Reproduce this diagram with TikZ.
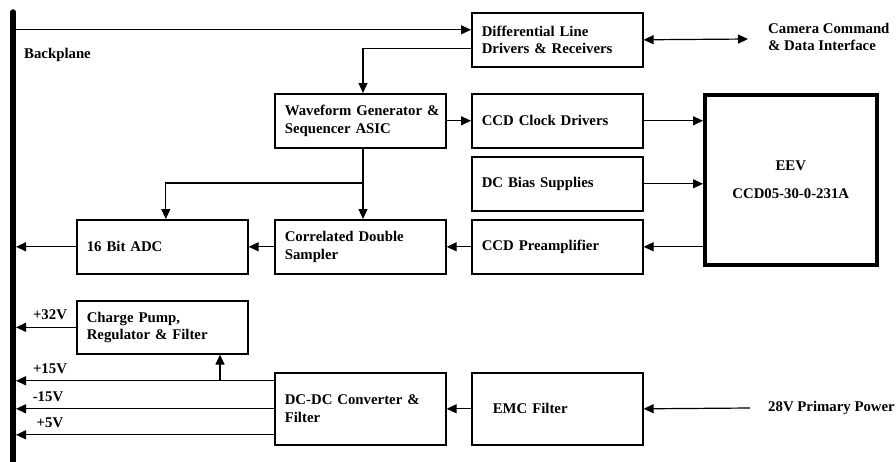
\documentclass[tikz,border=0pt]{standalone}
\usepackage{fontspec}
\setmainfont{Liberation Serif}
\usetikzlibrary{arrows.meta,calc}
\begin{document}
\begin{tikzpicture}[x=1pt,y=-1pt,
  font=\bfseries\fontsize{14.8}{17.5}\selectfont,
  box/.style={draw,line width=1.6pt,anchor=north west,minimum height=54pt,
    inner xsep=10pt,inner ysep=0pt,text width=151pt,align=left},
  wire/.style={line width=1.2pt},
  tip/.tip={Triangle[length=10pt,width=9pt]},
  arr/.style={wire,-tip},
  lbl/.style={inner sep=0pt}]
\useasboundingbox (0,0) rectangle (896,461);

% backplane bus
\coordinate (bpTop) at (13,12);
\coordinate (bpBot) at (13,475);
\coordinate (bpx) at (16,0);
\draw[line width=5.5pt,line cap=round] (bpTop) -- (bpBot);
\node[lbl,anchor=west] (bplabel) at (24,55) {Backplane};

% function blocks
\node[box] (diff) at (471,12) {Differential Line\\Drivers \& Receivers};
\node[box] (wave) at (274,93) {\mbox{Waveform Generator \&}\\Sequencer ASIC};
\node[box] (clk)  at (471,93) {CCD Clock Drivers};
\node[box] (bias) at (471,156) {DC Bias Supplies};
\node[box] (pre)  at (471,219) {CCD Preamplifier};
\node[box] (cds)  at (274,219) {Correlated Double\\Sampler};
\node[box] (adc)  at (76,219) {16 Bit ADC};
\node[box,minimum height=53pt] (pump) at (76,300) {Charge Pump,\\Regulator \& Filter};
\node[box,minimum height=72pt] (dcdc) at (274,372) {\mbox{DC-DC Converter \&}\\Filter};
\node[box,minimum height=72pt,inner xsep=21pt,text width=129pt] (emc) at (471,372) {EMC Filter};
\node[draw,line width=3.5pt,anchor=north west,minimum width=172pt,minimum height=170pt,
  align=center,font=\bfseries\fontsize{14.8}{28}\selectfont] (eev) at (703,93)
  {EEV\\CCD05-30-0-231A};

% external interfaces
\coordinate (cam) at (748,39);
\node[lbl,anchor=west,align=left] (camlabel) at (768,37) {Camera Command\\\& Data Interface};
\coordinate (pin) at (750,408);
\node[lbl,anchor=west] (pinlabel) at (768,408) {28V Primary Power};

% command / data path
\coordinate (wx) at (363,0);
\coordinate (d1) at ([yshift=10pt]diff.west);
\coordinate (d2) at ([yshift=-9pt]diff.west);
\draw[arr] (bpx |- d1) -- (d1);
\draw[arr] (d2) -| (wave.north -| wx);
\draw[wire,tip-tip] (diff.east) -- (cam);

% clocking and bias
\draw[arr] (wave.east) -- (clk.west);
\draw[arr] (clk.east) -- (clk.east -| eev.west);
\draw[arr] (bias.east) -- (bias.east -| eev.west);

% video chain
\draw[arr] (eev.west |- pre.east) -- (pre.east);
\draw[arr] (pre.west) -- (cds.east);
\draw[arr] (cds.west) -- (adc.east);
\draw[arr] (adc.west) -- (adc.west -| bpx);
\coordinate (j1) at (363,183);
\draw[arr] (wave.south -| wx) -- (cds.north -| wx);
\draw[arr] (j1) -| ([xshift=3.5pt]adc.north);

% power distribution
\coordinate (p15) at ([yshift=28pt]dcdc.west);
\coordinate (m15) at (dcdc.west);
\coordinate (p5) at ([yshift=-26pt]dcdc.west);
\coordinate (bx) at (220,0);
\draw[arr] (pin) -- (emc.east);
\draw[arr] (emc.west) -- (dcdc.east);
\draw[arr] (p15) -- (p15 -| bpx);
\draw[arr] (m15) -- (m15 -| bpx);
\draw[arr] (p5) -- (p5 -| bpx);
\draw[arr] (p15 -| bx) -- (pump.south -| bx);
\draw[arr] (pump.west) -- (pump.west -| bpx);

% supply rail labels
\node[lbl] (v32) at (50,315) {+32V};
\node[lbl] (v15p) at (50,369) {+15V};
\node[lbl] (v15m) at (48,397) {-15V};
\node[lbl] (v5) at (50,423) {+5V};
\end{tikzpicture}
\end{document}
